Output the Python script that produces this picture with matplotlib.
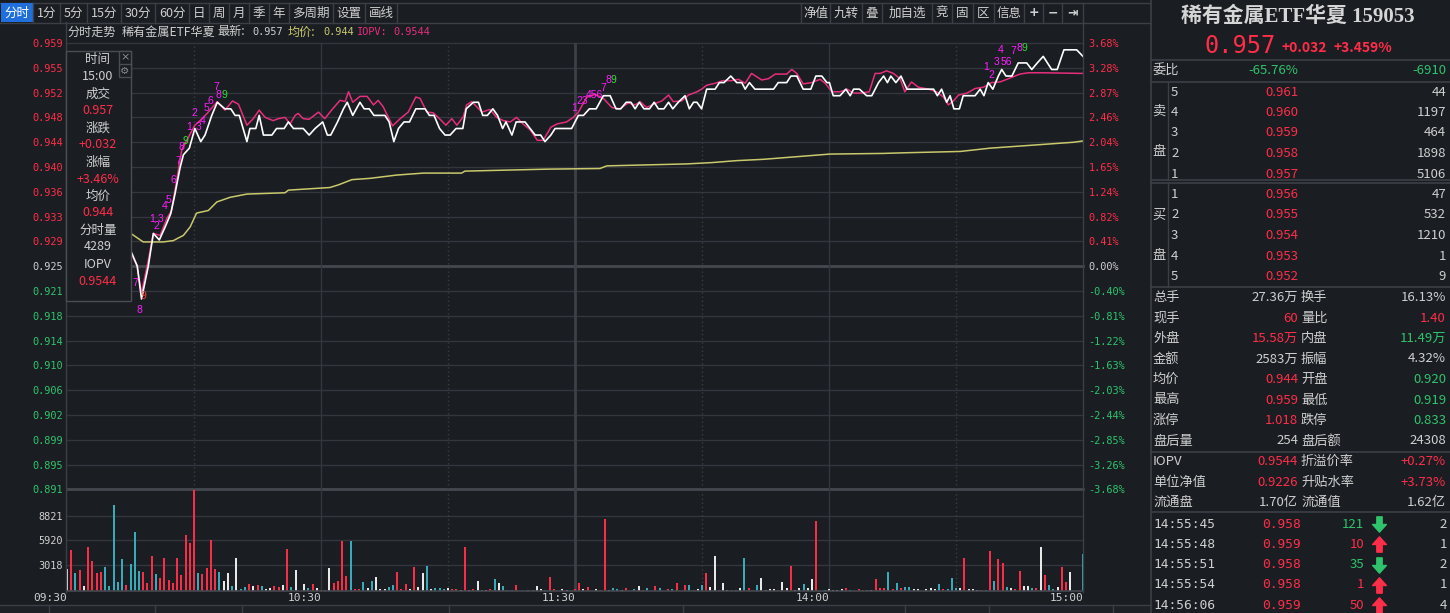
import matplotlib
matplotlib.use("Agg")
import matplotlib.pyplot as plt
from matplotlib.patches import Rectangle
from matplotlib.lines import Line2D
from matplotlib.path import Path

# ---- values ----
prev_close = 0.925
max_pct = 0.0368

left_labels = ["0.959", "0.955", "0.952", "0.948", "0.944", "0.940", "0.936", "0.933", "0.929", "0.925",
               "0.921", "0.918", "0.914", "0.910", "0.906", "0.902", "0.899", "0.895", "0.891"]
right_labels = ["3.68%", "3.28%", "2.87%", "2.46%", "2.04%", "1.65%", "1.24%", "0.82%", "0.41%", "0.00%",
                "-0.40%", "-0.81%", "-1.22%", "-1.63%", "-2.03%", "-2.44%", "-2.85%", "-3.26%", "-3.68%"]
time_ticks = [0, 60, 120, 180, 240]
time_labels = ["09:30", "10:30", "11:30", "14:00", "15:00"]
vol_ticks = [3018, 5920, 8821]

# minutes after 09:30 (afternoon continues at 120) and price
price_t = [15.3, 16.6, 17.6, 19.2, 20.4, 21.8, 23.2, 24.5, 25.5, 26.7, 27.5, 28.9, 30.2, 31.6, 32.6, 34.2,
           35.5, 37.3, 38.7, 39.7, 40.7, 42.5, 43.2, 44.6, 45.4, 46.4, 48.4, 49.5, 51.3, 52.3, 53.5, 55.8,
           57.2, 58.6, 60.4, 61.5, 62.3, 63.9, 65.3, 66.2, 67.5, 69.2, 70.2, 71.4, 72.5, 75.1, 76.1, 77.2,
           78.3, 79.6, 80.9, 82.4, 84.6, 85.6, 86.7, 88.0, 89.3, 90.5, 91.9, 93.5, 94.3, 96.0, 97.2, 98.2,
           99.3, 100.6, 101.7, 102.9, 103.7, 105.1, 106.1, 108.2, 109.4, 110.6, 111.9, 112.9, 114.3, 115.3,
           119.2, 120.8, 122.0, 123.4, 125.0, 126.7, 128.3, 129.7, 130.8, 132.1, 133.2, 134.2, 135.2, 136.3,
           137.6, 138.7, 139.7, 141.0, 142.1, 143.1, 144.4, 146.0, 147.0, 148.0, 148.8, 149.9, 151.1, 153.1,
           154.1, 155.2, 156.8, 158.2, 159.4, 160.2, 161.2, 162.5, 166.9, 168.0, 170.0, 171.0, 172.4, 173.9,
           175.7, 176.9, 178.3, 179.5, 180.1, 181.0, 182.6, 184.0, 185.0, 185.8, 187.2, 188.9, 190.1, 191.7,
           192.9, 193.8, 194.6, 195.8, 197.0, 198.4, 204.7, 205.6, 206.6, 207.8, 208.6, 209.5, 210.8, 211.7,
           214.5, 215.7, 216.6, 217.6, 218.7, 220.0, 220.8, 221.8, 223.2, 224.7, 226.7, 227.9, 229.2, 230.6,
           232.6, 233.9, 235.5, 238.5, 240.0]
price_v = [0.927, 0.925, 0.920, 0.925, 0.930, 0.929, 0.931, 0.933, 0.936, 0.940, 0.942, 0.943, 0.946, 0.944,
           0.945, 0.948, 0.950, 0.949, 0.949, 0.948, 0.948, 0.944, 0.946, 0.946, 0.948, 0.945, 0.945, 0.946,
           0.946, 0.947, 0.946, 0.946, 0.945, 0.946, 0.947, 0.945, 0.945, 0.947, 0.949, 0.950, 0.948, 0.950,
           0.949, 0.949, 0.948, 0.948, 0.947, 0.944, 0.946, 0.947, 0.947, 0.949, 0.949, 0.948, 0.948, 0.946,
           0.945, 0.945, 0.946, 0.946, 0.949, 0.950, 0.950, 0.948, 0.948, 0.949, 0.948, 0.946, 0.947, 0.945,
           0.947, 0.947, 0.946, 0.945, 0.945, 0.944, 0.945, 0.946, 0.946, 0.948, 0.948, 0.949, 0.949, 0.951,
           0.951, 0.949, 0.949, 0.950, 0.950, 0.949, 0.950, 0.949, 0.949, 0.950, 0.949, 0.949, 0.950, 0.949,
           0.950, 0.951, 0.949, 0.950, 0.950, 0.949, 0.952, 0.952, 0.953, 0.953, 0.954, 0.953, 0.953, 0.952,
           0.953, 0.952, 0.952, 0.953, 0.953, 0.954, 0.954, 0.952, 0.952, 0.954, 0.954, 0.953, 0.953, 0.951,
           0.951, 0.952, 0.951, 0.952, 0.952, 0.951, 0.951, 0.953, 0.954, 0.953, 0.954, 0.953, 0.954, 0.952,
           0.952, 0.951, 0.952, 0.950, 0.951, 0.949, 0.949, 0.951, 0.951, 0.952, 0.951, 0.953, 0.952, 0.954,
           0.955, 0.954, 0.954, 0.956, 0.956, 0.955, 0.956, 0.957, 0.955, 0.955, 0.958, 0.958, 0.957]

iopv_t = [15.3, 16.5, 17.6, 19.2, 20.4, 22.0, 23.6, 24.7, 25.9, 27.1, 28.3, 30.2, 31.6, 33.1, 35.5, 37.3,
          39.1, 40.5, 42.5, 44.0, 45.4, 46.8, 48.7, 49.9, 51.5, 52.7, 53.9, 54.6, 55.8, 57.2, 59.4, 60.9,
          62.5, 64.5, 65.7, 66.5, 67.5, 69.2, 70.9, 72.4, 73.5, 74.7, 76.9, 78.7, 80.6, 82.4, 83.4, 85.0,
          86.5, 88.3, 89.5, 90.9, 92.1, 93.6, 94.4, 95.6, 98.0, 99.9, 101.5, 103.1, 104.7, 106.2, 107.7,
          109.4, 111.1, 112.5, 114.3, 115.8, 118.0, 119.6, 120.8, 122.8, 124.7, 126.7, 128.7, 130.6, 132.6,
          134.2, 135.4, 136.9, 138.9, 140.5, 142.1, 143.2, 145.2, 146.8, 148.8, 149.9, 151.1, 153.1, 155.0,
          157.0, 158.6, 160.2, 161.7, 162.9, 164.1, 165.7, 167.3, 170.0, 171.2, 172.4, 173.9, 175.9, 177.9,
          179.1, 180.7, 182.6, 184.3, 185.8, 187.7, 189.5, 190.9, 192.1, 193.6, 195.2, 196.8, 197.9, 199.5,
          201.1, 203.5, 205.4, 207.0, 208.2, 209.4, 210.6, 212.6, 214.5, 216.5, 218.4, 220.4, 222.4, 225.1,
          227.1, 230.6, 240.0]
iopv_v = [0.9267, 0.9252, 0.9209, 0.9259, 0.9300, 0.9297, 0.9323, 0.9335, 0.9381, 0.9427, 0.9442, 0.9465,
          0.9473, 0.9483, 0.9501, 0.9488, 0.9502, 0.9497, 0.9465, 0.9475, 0.9488, 0.9477, 0.9472, 0.9475,
          0.9477, 0.9467, 0.9480, 0.9483, 0.9475, 0.9474, 0.9485, 0.9475, 0.9488, 0.9503, 0.9501, 0.9516,
          0.9500, 0.9509, 0.9509, 0.9496, 0.9503, 0.9493, 0.9464, 0.9475, 0.9485, 0.9508, 0.9506, 0.9485,
          0.9484, 0.9473, 0.9465, 0.9475, 0.9465, 0.9478, 0.9496, 0.9501, 0.9485, 0.9489, 0.9477, 0.9472,
          0.9470, 0.9477, 0.9467, 0.9458, 0.9442, 0.9442, 0.9462, 0.9467, 0.9470, 0.9477, 0.9485, 0.9508,
          0.9512, 0.9506, 0.9492, 0.9490, 0.9499, 0.9496, 0.9501, 0.9492, 0.9498, 0.9502, 0.9511, 0.9501,
          0.9502, 0.9511, 0.9516, 0.9520, 0.9526, 0.9529, 0.9533, 0.9533, 0.9535, 0.9529, 0.9544, 0.9539,
          0.9534, 0.9536, 0.9543, 0.9543, 0.9550, 0.9544, 0.9528, 0.9530, 0.9535, 0.9529, 0.9516, 0.9516,
          0.9520, 0.9514, 0.9514, 0.9516, 0.9544, 0.9544, 0.9548, 0.9544, 0.9536, 0.9516, 0.9531, 0.9523,
          0.9520, 0.9516, 0.9508, 0.9496, 0.9502, 0.9511, 0.9514, 0.9521, 0.9523, 0.9530, 0.9531, 0.9536,
          0.9543, 0.9545, 0.9545, 0.9544]

avg_t = [15.3, 18.0, 22.7, 25.1, 27.5, 29.1, 30.6, 33.4, 35.4, 38.5, 42.5, 51.5, 52.3, 62.1, 64.1, 67.3,
         71.6, 77.9, 84.2, 93.2, 94.0, 113.3, 125.9, 127.5, 146.4, 152.3, 158.2, 164.5, 176.3, 180.2, 192.8,
         198.0, 211.0, 218.0, 229.0, 237.7, 240.0]
avg_v = [0.9299, 0.9287, 0.9287, 0.9289, 0.9297, 0.9310, 0.9331, 0.9335, 0.9348, 0.9355, 0.9360, 0.9362,
         0.9366, 0.9370, 0.9374, 0.9382, 0.9384, 0.9389, 0.9392, 0.9392, 0.9395, 0.9398, 0.9399, 0.9403,
         0.9406, 0.9408, 0.9411, 0.9413, 0.9419, 0.9421, 0.9422, 0.9423, 0.9425, 0.9430, 0.9435, 0.9439,
         0.9441]

# per-minute volume; colour code r = up, g = down, w = flat (rows of ten)
vol_t = [0, 1, 2, 3, 4, 5, 6, 7, 8, 9,
         10, 11, 12, 13, 14, 15, 16, 17, 18, 19,
         20, 21, 22, 23, 24, 25, 26, 27, 28, 29,
         30, 31, 32, 33, 34, 35, 36, 37, 38, 39,
         40, 41, 42, 43, 44, 45, 46, 47, 48, 49,
         50, 51, 52, 53, 54, 56, 57, 58, 59, 60,
         61, 62, 63, 64, 65, 66, 67, 68, 69, 70,
         71, 72, 73, 74, 75, 76, 77, 78, 79, 80,
         81, 82, 83, 84, 85, 86, 87, 88, 89, 90,
         91, 92, 93, 94, 95, 96, 97, 98, 99, 100,
         101, 102, 103, 104, 105, 106, 109, 110, 111, 112,
         113, 114, 115, 117, 118, 120, 121, 122, 123, 125,
         126, 127, 128, 129, 130, 131, 132, 134, 135, 136,
         137, 139, 140, 142, 143, 144, 146, 147, 148, 149,
         150, 151, 152, 153, 154, 155, 156, 157, 158, 159,
         160, 161, 163, 164, 165, 166, 167, 168, 169, 170,
         171, 172, 173, 174, 175, 176, 177, 179, 180, 181,
         182, 183, 184, 185, 187, 188, 189, 190, 191, 192,
         193, 194, 195, 196, 197, 198, 199, 200, 201, 203,
         204, 205, 206, 207, 208, 209, 210, 211, 212, 213,
         214, 215, 216, 217, 218, 219, 220, 221, 222, 223,
         224, 225, 226, 227, 228, 229, 230, 231, 232, 233,
         234, 235, 236, 237, 240]
vol_v = [2548, 4782, 2078, 2430, 549, 5096, 3489, 2078, 2195, 2783,
         549, 10074, 1019, 3724, 666, 3136, 6899, 2313, 2195, 902,
         4077, 1960, 1490, 3842, 1254, 902, 3842, 1842, 6546, 5606,
         11838, 2078, 1960, 2666, 5958, 2548, 2195, 1137, 2078, 549,
         3842, 196, 431, 784, 549, 666, 549, 157, 314, 549,
         431, 666, 4900, 431, 2430, 784, 314, 784, 314, 78,
         78, 2666, 902, 1137, 5841, 1725, 5841, 196, 196, 1019,
         314, 1137, 1607, 196, 196, 431, 666, 2195, 196, 784,
         196, 2783, 431, 2078, 2901, 196, 314, 314, 196, 314,
         196, 196, 78, 5135, 78, 196, 1137, 78, 78, 196,
         1372, 902, 549, 78, 78, 666, 78, 78, 549, 196,
         78, 1607, 196, 196, 118, 196, 902, 196, 431, 196,
         118, 8428, 118, 353, 235, 118, 353, 196, 588, 118,
         353, 588, 353, 196, 196, 902, 666, 666, 118, 196,
         666, 2078, 431, 4077, 118, 902, 118, 118, 118, 353,
         3842, 353, 666, 1490, 118, 196, 196, 118, 1019, 353,
         2901, 118, 353, 784, 353, 1372, 8193, 118, 196, 118,
         118, 196, 353, 118, 196, 118, 118, 118, 1372, 353,
         353, 2195, 196, 902, 353, 431, 431, 196, 196, 196,
         353, 196, 784, 196, 196, 1490, 353, 353, 3842, 196,
         196, 118, 118, 118, 4665, 1137, 3724, 3254, 431, 353,
         196, 2313, 549, 549, 353, 353, 5135, 1842, 666, 196,
         431, 2783, 1019, 2195, 4289]
vol_c = list("wrgrwrrrrg" "ggggrgggrr" "rgrrrrrrrr" "rgrrrrgwwg" "wggrwrgwwr"
             "rwrgwwgrwr" "gwrrrrgrrg" "wgwwwggrrr" "wrwwgwgggw" "rrwrwrwgwr"
             "gwgrgrggww" "grrwwrrwrw" "rrwggwrgwr" "grgrgrrgrw" "grwwrwwrgw"
             "grgwwwwrww" "rwwgwwrgww" "wwrgrrgwrr" "rgrgrggwww" "wwgrgggwrw"
             "wwrgrgrrgw" "rrwwgrwrgg" "wrrwg")

# TD-style counters printed next to the line (multi-digit entries are stacked clusters)
td_labels = ["7", "8", "9",
             "1", "2", "3", "4", "5", "6", "7", "8", "9",
             "1", "2", "3", "4", "5", "6", "7", "8", "9",
             "1", "23", "456", "7", "8", "9",
             "1", "2", "3", "4", "56", "7", "8", "9"]
td_t = [16.2, 17.1, 18.0,
        20.0, 21.0, 22.2, 23.0, 23.9, 25.1, 26.3, 27.1, 28.0,
        28.9, 30.1, 31.0, 32.0, 33.0, 33.9, 35.2, 36.5, 36.5,
        119.07, 120.25, 122.61, 126.06, 127.24, 128.37,
        217.1, 218.4, 219.6, 220.6, 221.8, 223.6, 224.2, 225.4]
td_p = [0.9224, 0.9183, 0.9204,
        0.9322, 0.9311, 0.9322, 0.9342, 0.9351, 0.9381, 0.9411, 0.9432, 0.9441,
        0.9462, 0.9483, 0.9462, 0.9472, 0.9491, 0.9502, 0.9524, 0.9511, 0.9511,
        0.9491, 0.9502, 0.9511, 0.9522, 0.9534, 0.9534,
        0.9554, 0.9541, 0.9561, 0.9580, 0.9561, 0.9578, 0.9583, 0.9583]
td_c = list("mmr" "mmmmmmmmg" "mmmmmmmmg" "mmmmmg" "mmmmmmmg")
td_ha = list("ccc" "ccccccccc" "cccccccrl" "llllll" "cccccclll")

# right-hand quote panel
panel_title = "稀有金属ETF华夏 159053"
last_price, change, change_pct = "0.957", "+0.032", "+3.459%"
ask_prices = ["0.961", "0.960", "0.959", "0.958", "0.957"]
ask_vols = ["44", "1197", "464", "1898", "5106"]
bid_prices = ["0.956", "0.955", "0.954", "0.953", "0.952"]
bid_vols = ["47", "532", "1210", "1", "9"]
stats = [("总手", "27.36万", "w", "换手", "16.13%", "w"),
         ("现手", "60", "r", "量比", "1.40", "r"),
         ("外盘", "15.58万", "r", "内盘", "11.49万", "g"),
         ("金额", "2583万", "w", "振幅", "4.32%", "w"),
         ("均价", "0.944", "r", "开盘", "0.920", "g"),
         ("最高", "0.959", "r", "最低", "0.919", "g"),
         ("涨停", "1.018", "r", "跌停", "0.833", "g"),
         ("盘后量", "254", "w", "盘后额", "24308", "w"),
         ("IOPV", "0.9544", "r", "折溢价率", "+0.27%", "r"),
         ("单位净值", "0.9226", "r", "升贴水率", "+3.73%", "r"),
         ("流通盘", "1.70亿", "w", "流通值", "1.62亿", "w")]
trades = [("14:55:45", "0.958", "121", "g", "2"),
          ("14:55:48", "0.959", "10", "r", "1"),
          ("14:55:51", "0.958", "35", "g", "2"),
          ("14:55:54", "0.958", "1", "r", "1"),
          ("14:56:06", "0.959", "50", "r", "4")]
info_rows = [("时间", "w"), ("15:00", "w"), ("成交", "w"), ("0.957", "r"), ("涨跌", "w"), ("+0.032", "r"),
             ("涨幅", "w"), ("+3.46%", "r"), ("均价", "w"), ("0.944", "r"), ("分时量", "w"), ("4289", "w"),
             ("IOPV", "w"), ("0.9544", "r")]

# ---- style ----
W, H = 1450, 613
BG = "#1a1d22"
GRID = "#33363c"
FRAME = "#3c3f45"
TXT = "#cfcfcf"
RED = "#ff2e48"
GREEN = "#2fc46c"
TEAL = "#3aaebf"
YEL = "#c9c96c"
PINK = "#e62f7c"
MAG = "#ff1fff"
CJK = ["Noto Sans CJK SC", "DejaVu Sans"]
MONO = ["DejaVu Sans Mono", "Noto Sans CJK SC"]
NARROW = ["Liberation Sans Narrow", "Liberation Sans", "DejaVu Sans"]
COL = {"r": RED, "g": GREEN, "w": TXT}

X0, X1 = 67, 1083
Y_TOP, Y_MID, Y_BOT = 43, 489.4, 590.7

fig = plt.figure(figsize=(W / 100, H / 100), dpi=100, facecolor=BG)


def fx(x):
    return x / W


def fy(y):
    return 1 - y / H


def box(x0, y0, x1, y1, **kw):
    r = Rectangle((fx(x0), fy(y1)), (x1 - x0) / W, (y1 - y0) / H, transform=fig.transFigure, **kw)
    fig.add_artist(r)


def hline(y, x0, x1, color=FRAME, lw=1.0, z=2):
    fig.add_artist(Line2D([fx(x0), fx(x1)], [fy(y), fy(y)], transform=fig.transFigure,
                          color=color, lw=lw, zorder=z))


def vline(x, y0, y1, color=FRAME, lw=1.0, z=2):
    fig.add_artist(Line2D([fx(x), fx(x)], [fy(y0), fy(y1)], transform=fig.transFigure,
                          color=color, lw=lw, zorder=z))


def put(x, y, s, color=TXT, size=9.5, ha="left", family=CJK, z=3, **kw):
    fig.text(fx(x), fy(y), s, color=color, fontsize=size, ha=ha, va="center", family=family,
             zorder=z, **kw)


# ---- price pane ----
hi = prev_close * (1 + max_pct)
lo = prev_close * (1 - max_pct)
levels = [hi - i * (hi - lo) / 18 for i in range(19)]
lab_colors = [RED] * 9 + [TXT] + [GREEN] * 9

ax = fig.add_axes([fx(X0), fy(Y_MID), (X1 - X0) / W, (Y_MID - Y_TOP) / H])
ax.set_facecolor("none")
ax.set_xlim(0, 240)
ax.set_ylim(lo, hi)
for sp in ax.spines.values():
    sp.set_visible(False)
ax.set_xticks([])
ax.set_yticks(levels)
ax.set_yticklabels(left_labels, family=MONO, fontsize=7.4)
ax.tick_params(axis="y", length=0, pad=3)
for lab, c in zip(ax.get_yticklabels(), lab_colors):
    lab.set_color(c)

ax_r = ax.twinx()
ax_r.set_ylim(lo, hi)
for sp in ax_r.spines.values():
    sp.set_visible(False)
ax_r.set_yticks(levels)
ax_r.set_yticklabels(right_labels, family=MONO, fontsize=7.4)
ax_r.tick_params(axis="y", length=0, pad=4)
for lab, c in zip(ax_r.get_yticklabels(), lab_colors):
    lab.set_color(c)

for i, lv in enumerate(levels):
    if i in (9, 18):
        ax.axhline(lv, color="#45484e", lw=2.0, clip_on=False, zorder=1)
    else:
        ax.axhline(lv, color=GRID, lw=1.0, clip_on=False, zorder=1)


def time_grid(a):
    for m in (30, 90, 150, 210):
        a.axvline(m, color="#3a3d43", lw=1.0, ls=(0, (1, 2)), zorder=1)
    for m in (60, 180):
        a.axvline(m, color=GRID, lw=1.0, zorder=1)
    a.axvline(120, color="#3d4046", lw=2.0, zorder=1)


time_grid(ax)
ax.plot(avg_t, avg_v, color=YEL, lw=1.1, zorder=3)
ax.plot(iopv_t, iopv_v, color=PINK, lw=1.1, zorder=3)
ax.plot(price_t, price_v, color="white", lw=1.2, zorder=4)

td_map = {"m": MAG, "g": "#2ee02e", "r": "#ff4030"}
ha_map = {"c": "center", "l": "left", "r": "right"}
for lab, t, p, c, h in zip(td_labels, td_t, td_p, td_c, td_ha):
    ax.text(t, p, lab, color=td_map[c], fontsize=7.5, ha=ha_map[h], va="center",
            family=NARROW, zorder=5)

# ---- volume pane ----
vax = fig.add_axes([fx(X0), fy(Y_BOT), (X1 - X0) / W, (Y_BOT - Y_MID) / H])
vax.set_facecolor("none")
vax.set_xlim(0, 240)
vax.set_ylim(0, 11900)
for sp in vax.spines.values():
    sp.set_visible(False)
vax.set_yticks(vol_ticks)
vax.set_yticklabels([str(v) for v in vol_ticks], family=MONO, fontsize=7.4, color=TXT)
vax.tick_params(axis="y", length=0, pad=3)
vax.set_xticks(time_ticks)
vax.set_xticklabels(time_labels, family=MONO, fontsize=8, color=TXT)
vax.tick_params(axis="x", length=0, pad=1.5)
for lab in vax.get_xticklabels():
    lab.set_horizontalalignment("right")
for v in vol_ticks:
    vax.axhline(v, color=GRID, lw=1.0, zorder=1)
time_grid(vax)
bar_colors = [{"r": RED, "g": TEAL, "w": "#eeeeee"}[c] for c in vol_c]
vax.vlines(vol_t, 0, vol_v, colors=bar_colors, lw=1.4, zorder=3)

# ---- frame ----
hline(Y_BOT + 0.5, X0, X1, color="#45484e", lw=1.2)
vline(X0 - 1, 22, Y_BOT + 1, color=FRAME)
vline(X1, 22, Y_BOT + 1, color=FRAME)
vline(1151, 0, H, color=FRAME, lw=1.2)

# toolbar
hline(3, 0, 1151, color=FRAME)
hline(22.5, 0, 1151, color=FRAME)
tabs = ["分时", "1分", "5分", "15分", "30分", "60分", "日", "周", "月", "季", "年", "多周期", "设置", "画线"]
tab_edges = [1, 33, 60, 87, 121, 155, 189, 209, 229, 249, 269, 289, 333, 365, 397]
box(tab_edges[0], 3.5, tab_edges[1], 22, facecolor="#1f6fdc", edgecolor="none", zorder=2)
for i, t in enumerate(tabs):
    vline(tab_edges[i + 1], 3, 22.5)
    put((tab_edges[i] + tab_edges[i + 1]) / 2, 13, t, color="white" if i == 0 else TXT, size=9, ha="center")
tools = ["净值", "九转", "叠", "加自选", "竞", "固", "区", "信息", "+", "−", "⇥"]
tool_edges = [801, 830, 862, 882, 932, 952, 973, 994, 1024, 1043, 1062, 1083]
vline(tool_edges[0], 3, 22.5)
for i, t in enumerate(tools):
    vline(tool_edges[i + 1], 3, 22.5)
    fam = ["DejaVu Sans"] if i >= 8 else CJK
    put((tool_edges[i] + tool_edges[i + 1]) / 2, 13, t, size=9, ha="center", family=fam,
        fontweight="bold" if i >= 8 else "normal")

# header line of the chart
put(67, 32, "分时走势", size=8.7)
put(122, 32, "稀有金属ETF华夏", size=8.7)
put(217, 32, "最新:", size=8.7)
put(252, 32, "0.957", size=7.4, family=MONO)
put(288, 32, "均价:", color=YEL, size=8.7)
put(323, 32, "0.944", color=YEL, size=7.4, family=MONO)
put(357, 32, "IOPV:", color=PINK, size=7.4, family=MONO)
put(393, 32, "0.9544", color=PINK, size=7.4, family=MONO)

# crosshair info box
box(66, 51, 131, 301, facecolor=BG, edgecolor="#4a4d53", lw=1.0, zorder=10)
box(119, 51, 131, 77, facecolor=BG, edgecolor="#4a4d53", lw=1.0, zorder=10)
hline(64, 119, 131, color="#4a4d53", z=11)
put(125, 57.5, "×", color="#8a8d92", size=8, ha="center", family=["DejaVu Sans"], z=11)
put(125, 70.5, "⚙", color="#8a8d92", size=7.5, ha="center", family=["DejaVu Sans"], z=11)
for k, (s, c) in enumerate(info_rows):
    put(98, 60 + k * 17.0, s, color=COL[c], size=9, ha="center", z=11)

# bottom tab strip
box(0, 605, 1151, 613, facecolor="#1e2126", edgecolor="none", zorder=1)
hline(605, 0, 1151, color=FRAME)
for x in (49, 155, 242, 449, 683, 905, 989, 1113):
    vline(x, 605, 613)

# ---- quote panel ----
put(1298, 17, panel_title, color="#d6d6d6", size=15, ha="center",
    family=["Liberation Serif", "Noto Sans CJK SC"], fontweight="bold")
put(1205, 46, last_price, color=RED, size=17, family=MONO)
put(1281, 48.5, change, color=RED, size=10, fontweight="bold")
put(1334, 48.5, change_pct, color=RED, size=10, fontweight="bold")
for y in (59.5, 82, 180, 183, 287, 452, 512):
    hline(y, 1151, W, color=FRAME, lw=1.2)
vline(1168, 82, 180)
vline(1168, 183, 287)

put(1153, 71, "委比")
put(1298, 71, "-65.76%", color=GREEN, ha="right")
put(1446, 71, "-6910", color=GREEN, ha="right")

put(1159, 111, "卖", ha="center")
put(1159, 152, "盘", ha="center")
for k in range(5):
    y = 92 + k * 20.5
    put(1171, y, str(5 - k))
    put(1298, y, ask_prices[k], color=RED, ha="right")
    put(1446, y, ask_vols[k], ha="right")
put(1159, 215, "买", ha="center")
put(1159, 256, "盘", ha="center")
for k in range(5):
    y = 194.5 + k * 20.5
    put(1171, y, str(k + 1))
    put(1298, y, bid_prices[k], color=RED, ha="right")
    put(1446, y, bid_vols[k], ha="right")

for k, (l1, v1, c1, l2, v2, c2) in enumerate(stats):
    y = 297.5 + k * 20.5
    put(1153, y, l1)
    put(1298, y, v1, color=COL[c1], ha="right")
    put(1301, y, l2)
    put(1446, y, v2, color=COL[c2], ha="right")

up_arrow = Path([(-0.35, -1), (0.35, -1), (0.35, 0), (0.9, 0), (0, 1), (-0.9, 0), (-0.35, 0), (-0.35, -1)],
                [Path.MOVETO] + [Path.LINETO] * 6 + [Path.CLOSEPOLY])
down_arrow = Path([(x, -y) for x, y in up_arrow.vertices], up_arrow.codes)
for k, (tm, pr, vol, c, n) in enumerate(trades):
    y = 524 + k * 20.3
    put(1153, y, tm, size=9.3, family=MONO)
    put(1301, y, pr, color=RED, size=9.3, ha="right", family=MONO)
    put(1364, y, vol, color=COL[c], ha="right")
    fig.add_artist(Line2D([fx(1379)], [fy(y)], transform=fig.transFigure,
                          marker=up_arrow if c == "r" else down_arrow,
                          markersize=11, color=COL[c], lw=0, zorder=4))
    put(1447, y, n, ha="right")

fig.savefig("out.png", dpi=100, facecolor=BG)
